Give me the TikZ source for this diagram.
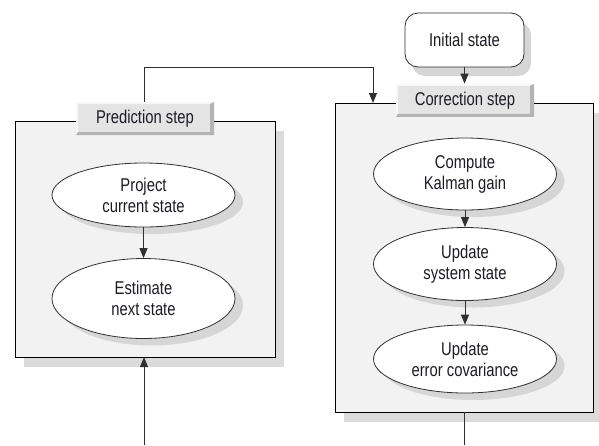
\documentclass[tikz,border=0pt]{standalone}
\usepackage{fontspec}
\setmainfont{Liberation Sans}[FakeStretch=0.8]
\usetikzlibrary{arrows.meta,shadows,shapes.geometric}
\definecolor{panelfill}{HTML}{F2F2F2}
\definecolor{panelshadow}{HTML}{DBDBDB}
\definecolor{tabface}{HTML}{E4E4E4}
\definecolor{tablight}{HTML}{F8F8F8}
\definecolor{tabdark}{HTML}{B4B4B4}
\definecolor{ink}{HTML}{1C1C26}
\definecolor{wire}{HTML}{303030}
\definecolor{softshadow}{HTML}{D6D6D6}

\begin{document}
\begin{tikzpicture}[x=1pt,y=-1pt,
  font=\fontsize{18.5}{21}\selectfont, text=ink,
  panel/.style={draw=black, line width=0.9pt, fill=panelfill, inner sep=0pt,
    drop shadow={shadow xshift=9pt, shadow yshift=-10pt, fill=panelshadow, opacity=1}},
  tab/.style={fill=tabface, inner sep=0pt, minimum width=138pt, minimum height=33pt,
    path picture={
      \fill[tablight] (path picture bounding box.north west) -- (path picture bounding box.north east)
        -- ++(-4pt,-2pt) -- ([shift={(2pt,-2pt)}]path picture bounding box.north west)
        -- ([shift={(2pt,3pt)}]path picture bounding box.south west) -- (path picture bounding box.south west) -- cycle;
      \fill[tabdark] (path picture bounding box.south east) -- (path picture bounding box.north east)
        -- ++(-4pt,-2pt) -- ([shift={(-4pt,3pt)}]path picture bounding box.south east)
        -- ([shift={(2pt,3pt)}]path picture bounding box.south west) -- (path picture bounding box.south west) -- cycle;
    }},
  stepnode/.style={ellipse, draw=wire, line width=0.8pt, fill=white, inner sep=0pt,
    minimum width=183pt, align=center,
    drop shadow={shadow xshift=8pt, shadow yshift=-7pt, fill=softshadow, opacity=1}},
  startnode/.style={rounded corners=13pt, draw=wire, line width=0.8pt, fill=white,
    minimum width=119pt, minimum height=54pt, inner sep=0pt,
    drop shadow={shadow xshift=7pt, shadow yshift=-9pt, fill=softshadow, opacity=1}},
  wireline/.style={draw=wire, line width=0.8pt},
  flow/.style={wireline, -{Triangle[length=10pt,width=8pt]}}]

\useasboundingbox (0,0) rectangle (599,445);

% panels
\node[panel, minimum width=260pt, minimum height=236pt] (lpanel) at (145,239) {};
\node[panel, minimum width=258pt, minimum height=309pt] (rpanel) at (464,257.5) {};

% panel tabs
\node[tab] (ltab) at (145,118.5) {Prediction step};
\node[tab] (rtab) at (465,100.3) {Correction step};

% start node
\node[startnode] (init) at (464.5,40) {Initial state};

% prediction steps
\node[stepnode, minimum height=64pt] (project) at (143.5,195) {Project\\current state};
\node[stepnode, minimum height=80pt] (estimate) at (143.5,298.5) {Estimate\\next state};

% correction steps
\node[stepnode, minimum height=72pt] (gain) at (465,174) {Compute\\Kalman gain};
\node[stepnode, minimum height=73pt] (update) at (465,264) {Update\\system state};
\node[stepnode, minimum height=68pt] (cov) at (465,359) {Update\\error covariance};

% free ends of the loop lines
\coordinate (loopin) at (144,445);
\coordinate (loopout) at (464,445);
\coordinate (corner1) at (144,67);
\coordinate (corner2) at (373,67);
\coordinate (rtop) at (373,103);
\coordinate (lbottom) at (144,357);

% connectors
\draw[flow] (init.south) -- (init.south |- rtab.north);
\draw[flow] (ltab.north -| corner1) -- (corner1) -- (corner2) -- (rtop);
\draw[flow] (project) -- (estimate);
\draw[flow] (gain) -- (update);
\draw[flow] (update) -- (cov);
\draw[flow] (loopin) -- (lbottom);
\draw[wireline] (rpanel.south -| loopout) -- (loopout);

\end{tikzpicture}
\end{document}
